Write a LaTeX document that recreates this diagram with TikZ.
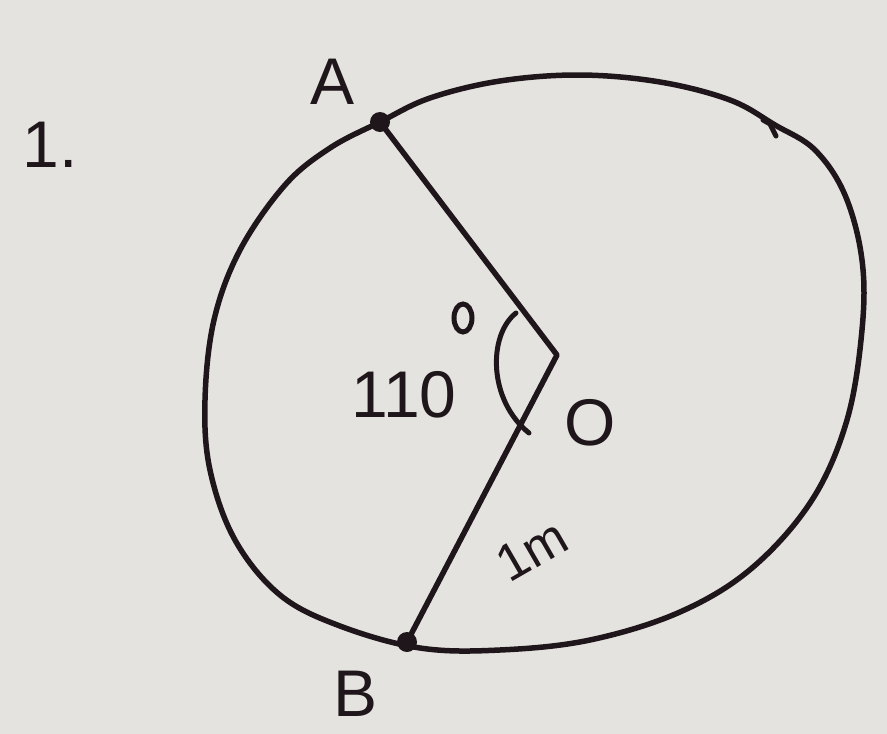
\documentclass[tikz,border=0pt]{standalone}
\usepackage{fontspec}
\setmainfont{Liberation Sans}
\definecolor{paper}{RGB}{229,227,223}
\definecolor{ink}{RGB}{30,22,26}
\tikzset{
  inkline/.style={draw=ink, line width=5.5pt, line cap=round, line join=round},
  dotpt/.style={circle, fill=ink, inner sep=0pt, minimum size=20pt},
  lbl/.style={text=ink, inner sep=0pt, font=\fontsize{66}{66}\selectfont},
  smalllbl/.style={text=ink, inner sep=0pt, font=\fontsize{52}{52}\selectfont}
}
\begin{document}
\begin{tikzpicture}[x=1pt,y=-1pt]
\fill[paper] (0,0) rectangle (887,734);
\useasboundingbox (0,0) rectangle (887,734);
% points
\coordinate (A) at (380,122);
\coordinate (O) at (557,355);
\coordinate (B) at (407,642);
% outer closed curve
\draw[inkline] plot[smooth cycle, tension=0.6] coordinates {
 (380,122) (430,98) (500,81) (580,75) (660,82) (730,100) (775,125)
 (815,150) (845,195) (862,260) (862,330) (847,420) (812,500) (752,568)
 (680,612) (590,640) (500,650) (420,648) (340,626) (280,595) (235,540)
 (210,470) (205,400) (214,320) (240,250) (285,185) (330,148)};
% hook
\draw[inkline, line width=5pt] (763,120) -- (770,124) -- (776,136);
% radii
\draw[inkline] (A) -- (O) -- (B);
% angle arc
\draw[inkline, line width=5pt] (516,313) .. controls (488,335) and (488,400) .. (529,433);
% points
\node[dotpt] (Adot) at (A) {};
\node[dotpt] (Bdot) at (B) {};
% labels
\node[lbl] (one) at (50,145) {1.};
\node[lbl] (la) at (333,82) {A};
\node[lbl] (lb) at (356,694) {B};
\node[lbl] (lo) at (590,423) {O};
\node[lbl] (ang) at (404,395) {110};
\draw[draw=ink, line width=5pt] (463,318) ellipse (9pt and 14pt);
\node[smalllbl, rotate=30] (len) at (532,550) {1m};
\end{tikzpicture}
\end{document}
